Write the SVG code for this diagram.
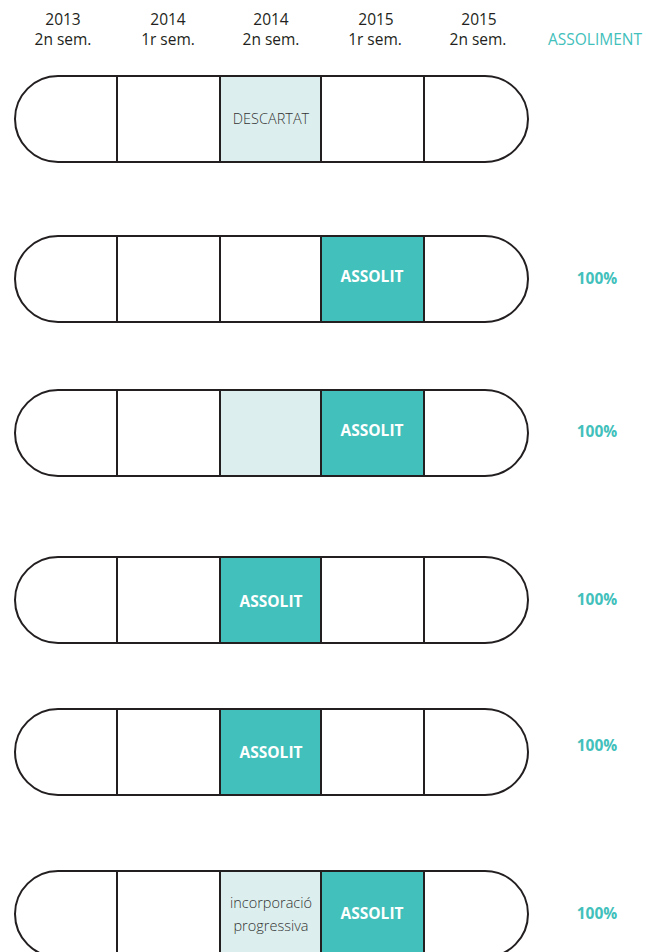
<svg xmlns="http://www.w3.org/2000/svg" width="646" height="952" viewBox="0 0 646 952">
<style>
.pill{fill:none;stroke:#231f20;stroke-width:2}
.bg{fill:#fff}
.div{stroke:#231f20;stroke-width:2}
.lt{fill:#dcefee}
.tl{fill:#42c0bb}
.hd{font-family:"Open Sans",sans-serif;font-size:15.5px;fill:#231f20;text-anchor:middle}
.hdt{font-family:"Open Sans",sans-serif;font-size:15.5px;fill:#42c0bb;text-anchor:middle}
.cl{font-family:"Open Sans",sans-serif;font-size:14.5px;fill:#333333;text-anchor:middle;font-weight:300}
.as{font-family:"Open Sans",sans-serif;font-size:15.5px;fill:#fff;text-anchor:middle;font-weight:700}
.pc{font-family:"Open Sans",sans-serif;font-size:15.5px;fill:#42c0bb;text-anchor:middle;font-weight:700}
</style>
<defs>
<path id="pillshape" d="M58,0 H485 A43,43 0 0 1 485,86 H58 A43,43 0 0 1 58,0 Z"/>
<g id="dividers">
<line class="div" x1="117" y1="0" x2="117" y2="86"/>
<line class="div" x1="220" y1="0" x2="220" y2="86"/>
<line class="div" x1="321" y1="0" x2="321" y2="86"/>
<line class="div" x1="424" y1="0" x2="424" y2="86"/>
</g>
</defs>
<g id="header">
<text class="hd" x="63" y="25">2013</text><text class="hd" x="63" y="45">2n sem.</text>
<text class="hd" x="168" y="25">2014</text><text class="hd" x="168" y="45">1r sem.</text>
<text class="hd" x="271" y="25">2014</text><text class="hd" x="271" y="45">2n sem.</text>
<text class="hd" x="376" y="25">2015</text><text class="hd" x="375" y="45">1r sem.</text>
<text class="hd" x="479" y="25">2015</text><text class="hd" x="478" y="45">2n sem.</text>
<text class="hdt" x="595" y="45">ASSOLIMENT</text>
</g>
<g id="row1" transform="translate(0,76)">
<use href="#pillshape" class="bg"/>
<rect class="lt" x="220" y="0" width="101" height="86"/>
<use href="#pillshape" class="pill"/>
<use href="#dividers"/>
<text class="cl" x="271" y="48">DESCARTAT</text>
</g>
<g id="row2" transform="translate(0,236)">
<use href="#pillshape" class="bg"/>
<rect class="tl" x="321" y="0" width="103" height="86"/>
<use href="#pillshape" class="pill"/>
<use href="#dividers"/>
<text class="as" x="372" y="46">ASSOLIT</text>
<text class="pc" x="597" y="48">100%</text>
</g>
<g id="row3" transform="translate(0,390)">
<use href="#pillshape" class="bg"/>
<rect class="lt" x="220" y="0" width="101" height="86"/>
<rect class="tl" x="321" y="0" width="103" height="86"/>
<use href="#pillshape" class="pill"/>
<use href="#dividers"/>
<text class="as" x="372" y="46">ASSOLIT</text>
<text class="pc" x="597" y="47">100%</text>
</g>
<g id="row4" transform="translate(0,557)">
<use href="#pillshape" class="bg"/>
<rect class="tl" x="220" y="0" width="101" height="86"/>
<use href="#pillshape" class="pill"/>
<use href="#dividers"/>
<text class="as" x="271" y="50">ASSOLIT</text>
<text class="pc" x="597" y="48">100%</text>
</g>
<g id="row5" transform="translate(0,709)">
<use href="#pillshape" class="bg"/>
<rect class="tl" x="220" y="0" width="101" height="86"/>
<use href="#pillshape" class="pill"/>
<use href="#dividers"/>
<text class="as" x="271" y="49">ASSOLIT</text>
<text class="pc" x="597" y="42">100%</text>
</g>
<g id="row6" transform="translate(0,871)">
<use href="#pillshape" class="bg"/>
<rect class="lt" x="220" y="0" width="101" height="86"/>
<rect class="tl" x="321" y="0" width="103" height="86"/>
<use href="#pillshape" class="pill"/>
<use href="#dividers"/>
<text class="cl" x="271" y="37">incorporació</text>
<text class="cl" x="271" y="60">progressiva</text>
<text class="as" x="372" y="48">ASSOLIT</text>
<text class="pc" x="597" y="48">100%</text>
</g>
</svg>
